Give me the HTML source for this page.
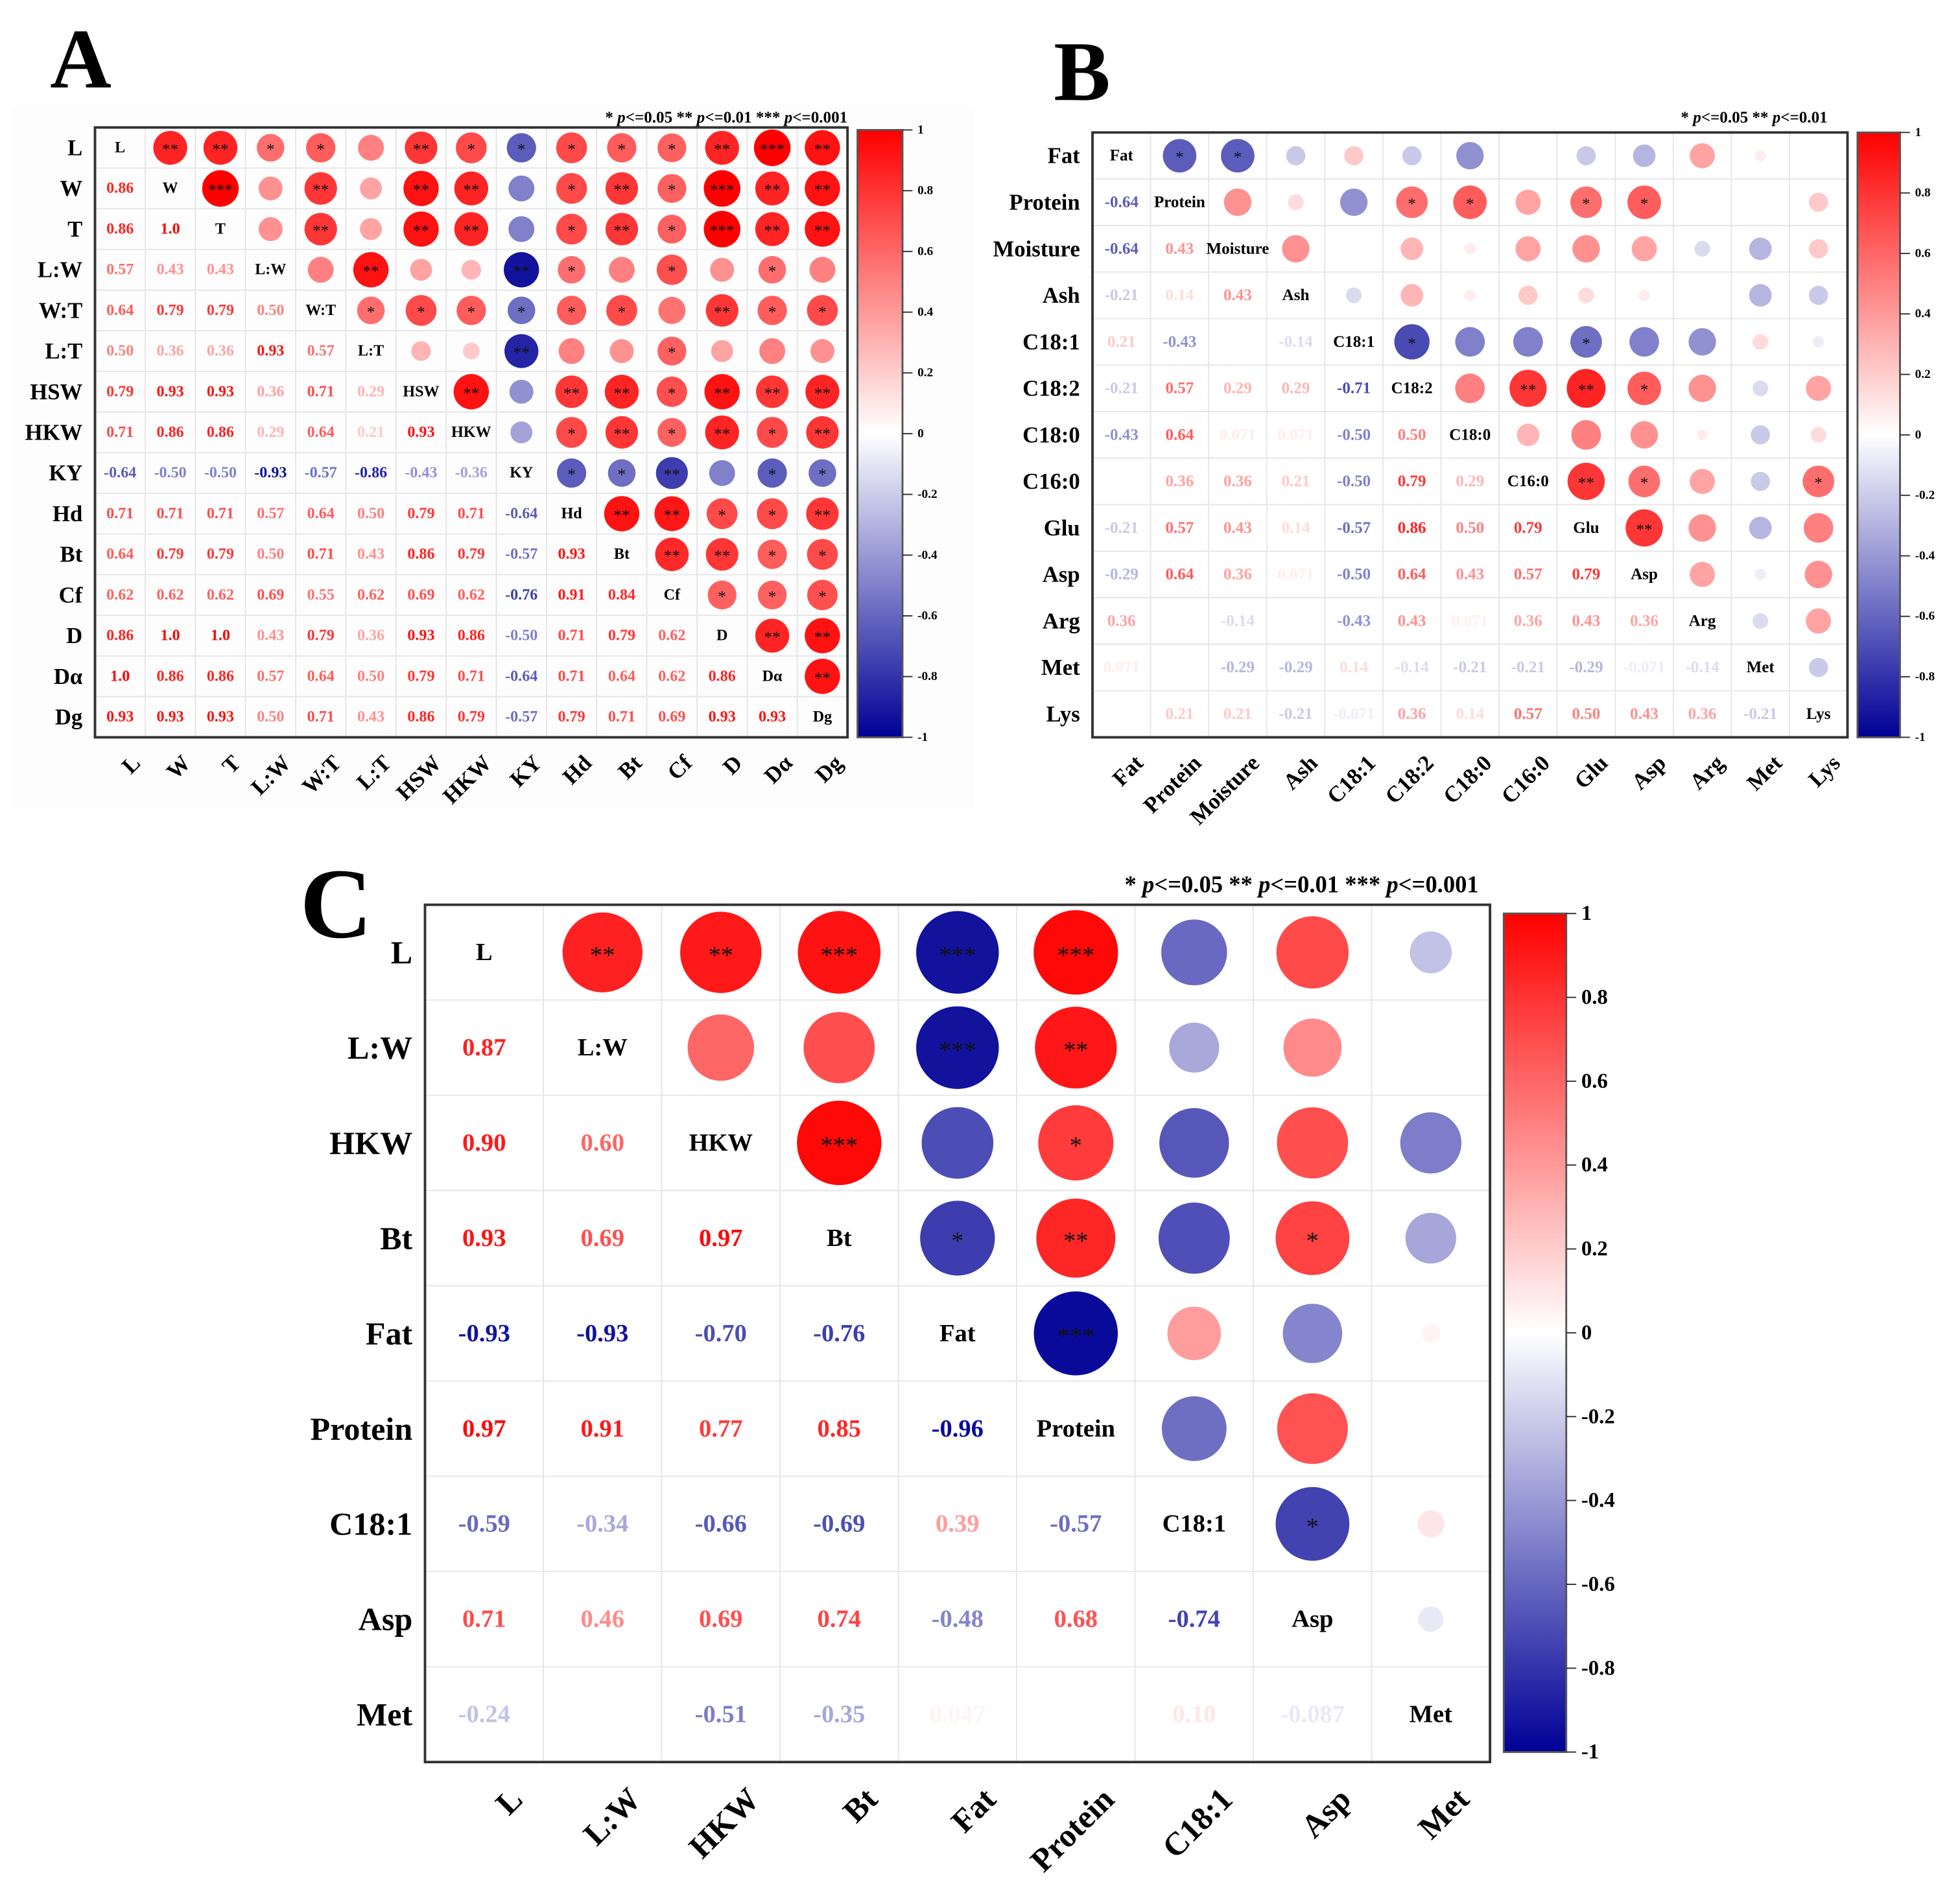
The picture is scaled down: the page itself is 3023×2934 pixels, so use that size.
<!DOCTYPE html>
<html><head><meta charset="utf-8"><title>Correlation matrices</title>
<style>
html,body{margin:0;padding:0;background:#fff;}
svg{display:block;font-family:"Liberation Serif",serif;}
</style></head>
<body>
<svg id="fig" xmlns="http://www.w3.org/2000/svg" width="3023" height="2934" viewBox="0 0 1568 1522" preserveAspectRatio="none">
<rect x="0" y="0" width="1568" height="1522" fill="#fff"/>
<rect x="10" y="85" width="770" height="563" fill="#fdfdfd"/>
<text x="40" y="70" font-size="68" font-weight="bold">A</text>
<text x="843" y="80" font-size="68" font-weight="bold">B</text>
<text x="240" y="750" font-size="80" font-weight="bold">C</text>
</svg>
<script>
// ---------- Panel A data ----------
const labelsA = ["L","W","T","L:W","W:T","L:T","HSW","HKW","KY","Hd","Bt","Cf","D","Dα","Dg"];
const lowerA = [
 [],
 [0.86],
 [0.86,1.0],
 [0.57,0.43,0.43],
 [0.64,0.79,0.79,0.50],
 [0.50,0.36,0.36,0.93,0.57],
 [0.79,0.93,0.93,0.36,0.71,0.29],
 [0.71,0.86,0.86,0.29,0.64,0.21,0.93],
 [-0.64,-0.50,-0.50,-0.93,-0.57,-0.86,-0.43,-0.36],
 [0.71,0.71,0.71,0.57,0.64,0.50,0.79,0.71,-0.64],
 [0.64,0.79,0.79,0.50,0.71,0.43,0.86,0.79,-0.57,0.93],
 [0.62,0.62,0.62,0.69,0.55,0.62,0.69,0.62,-0.76,0.91,0.84],
 [0.86,1.0,1.0,0.43,0.79,0.36,0.93,0.86,-0.50,0.71,0.79,0.62],
 [1.0,0.86,0.86,0.57,0.64,0.50,0.79,0.71,-0.64,0.71,0.64,0.62,0.86],
 [0.93,0.93,0.93,0.50,0.71,0.43,0.86,0.79,-0.57,0.79,0.71,0.69,0.93,0.93]
];
const starsA = [
 ["**","**","*","*","","**","*","*","*","*","*","**","***","**"],
 ["***","","**","","**","**","","*","**","*","***","**","**"],
 ["","**","","**","**","","*","**","*","***","**","**"],
 ["","**","","","**","*","","*","","*",""],
 ["*","*","*","*","*","*","","**","*","*"],
 ["","","**","","","*","","",""],
 ["**","","**","**","*","**","**","**"],
 ["","*","**","*","**","*","**"],
 ["*","*","**","","*","*"],
 ["**","**","*","*","**"],
 ["**","**","*","*"],
 ["*","*","*"],
 ["**","**"],
 ["**"],
 []
];
const ticksA = [1,0.8,0.6,0.4,0.2,0,-0.2,-0.4,-0.6,-0.8,-1];

// ---------- Panel B data ----------
const labelsB = ["Fat","Protein","Moisture","Ash","C18:1","C18:2","C18:0","C16:0","Glu","Asp","Arg","Met","Lys"];
const lowerB = [
 [],
 [-0.64],
 [-0.64,0.43],
 [-0.21,0.14,0.43],
 [0.21,-0.43,0,-0.14],
 [-0.21,0.57,0.29,0.29,-0.71],
 [-0.43,0.64,0.071,0.071,-0.50,0.50],
 [0,0.36,0.36,0.21,-0.50,0.79,0.29],
 [-0.21,0.57,0.43,0.14,-0.57,0.86,0.50,0.79],
 [-0.29,0.64,0.36,0.071,-0.50,0.64,0.43,0.57,0.79],
 [0.36,0,-0.14,0,-0.43,0.43,0.071,0.36,0.43,0.36],
 [0.071,0,-0.29,-0.29,0.14,-0.14,-0.21,-0.21,-0.29,-0.071,-0.14],
 [0,0.21,0.21,-0.21,-0.071,0.36,0.14,0.57,0.50,0.43,0.36,-0.21]
];
const starsB = [
 ["*","*","","","","","","","","","",""],
 ["","","","*","*","","*","*","","",""],
 ["","","","","","","","","",""],
 ["","","","","","","","",""],
 ["*","","","*","","","",""],
 ["","**","**","*","","",""],
 ["","","","","",""],
 ["**","*","","","*"],
 ["**","","",""],
 ["","",""],
 ["",""],
 [""],
 []
];
const ticksB = [1,0.8,0.6,0.4,0.2,0,-0.2,-0.4,-0.6,-0.8,-1];

// ---------- Panel C data ----------
const labelsC = ["L","L:W","HKW","Bt","Fat","Protein","C18:1","Asp","Met"];
const lowerC = [
 [],
 [0.87],
 [0.90,0.60],
 [0.93,0.69,0.97],
 [-0.93,-0.93,-0.70,-0.76],
 [0.97,0.91,0.77,0.85,-0.96],
 [-0.59,-0.34,-0.66,-0.69,0.39,-0.57],
 [0.71,0.46,0.69,0.74,-0.48,0.68,-0.74],
 [-0.24,0,-0.51,-0.35,0.047,0,0.10,-0.087]
];
const starsC = [
 ["**","**","***","***","***","","",""],
 ["","","***","**","","",""],
 ["***","","*","","",""],
 ["*","**","","*",""],
 ["***","","",""],
 ["","",""],
 ["*",""],
 [""],
 []
];
const ticksC = [1,0.8,0.6,0.4,0.2,0,-0.2,-0.4,-0.6,-0.8,-1];

const NS = "http://www.w3.org/2000/svg";
const svg = document.getElementById("fig");

function colorOf(v){
  v = Math.max(-1, Math.min(1, v));
  if (v >= 0) {
    const g = Math.round(255*(1-v));
    return `rgb(255,${g},${g})`;
  } else {
    const a = -v;
    const c = Math.round(255*(1-a));
    const b = Math.round(255 - a*105);
    return `rgb(${c},${c},${b})`;
  }
}
function fmt(v){
  if (Math.abs(v) === 1) return v < 0 ? "-1.0" : "1.0";
  if (Math.abs(Math.round(v*100) - v*100) < 1e-9) return v.toFixed(2);
  return String(v);
}
function mk(tag, attrs, parent){
  const e = document.createElementNS(NS, tag);
  for (const k in attrs) e.setAttribute(k, attrs[k]);
  (parent || svg).appendChild(e);
  return e;
}
function valueAt(lower, i, j){
  const r = Math.max(i,j), c = Math.min(i,j);
  return lower[r][c];
}

function drawPanel(cfg){
  const {key, labels, lower, stars, ticks, x0, y0, x1, y1, cb, labelSize, valSize, starSize, tickSize, legend} = cfg;
  const n = labels.length;
  const cw = (x1-x0)/n, ch = (y1-y0)/n;
  const xPos = j => x0 + cw*(j+0.5);
  const yPos = i => y0 + ch*(i+0.5);
  const g = mk("g", {});
  
  
  for (let k = 1; k < n; k++) {
    const lv = mk("line", {x1: x0+cw*k, y1: y0, x2: x0+cw*k, y2: y1, stroke: "#e6e6e6", "stroke-width": 1}, g);
    
    
    const lh = mk("line", {x1: x0, y1: y0+ch*k, x2: x1, y2: y0+ch*k, stroke: "#e6e6e6", "stroke-width": 1}, g);
    
    
  }
  const border = mk("rect", {x: x0, y: y0, width: x1-x0, height: y1-y0, fill: "none", stroke: "#333", "stroke-width": 2}, g);
  
  
  const rmax = 0.45*Math.min(cw, ch);
  for (let i = 0; i < n; i++) {
    const rl = mk("text", {x: x0-10, y: yPos(i), "font-size": labelSize, "font-weight": "bold", "text-anchor": "end", "dominant-baseline": "central"}, g);
    rl.textContent = labels[i];
    
    
    const cx = xPos(i) + cw*0.2, cy = y1 + labelSize*0.7;
    const cl = mk("text", {x: cx, y: cy, "font-size": labelSize, "font-weight": "bold", "text-anchor": "end", "dominant-baseline": "hanging", transform: `rotate(-45 ${cx} ${cy})`}, g);
    cl.textContent = labels[i];
    
    
    for (let j = 0; j < n; j++) {
      if (i === j) {
        const d = mk("text", {x: xPos(j), y: yPos(i), "font-size": valSize, "font-weight": "bold", "text-anchor": "middle", "dominant-baseline": "central"}, g);
        d.textContent = labels[i];
        
        
      } else if (i > j) {
        const v = valueAt(lower, i, j);
        if (v === 0) continue;
        const t = mk("text", {x: xPos(j), y: yPos(i), "font-size": valSize, "font-weight": "bold", "text-anchor": "middle", "dominant-baseline": "central", fill: colorOf(v)}, g);
        t.textContent = fmt(v);
        
        
      } else {
        const v = valueAt(lower, i, j);
        if (v === 0) continue;
        const c = mk("circle", {cx: xPos(j), cy: yPos(i), r: rmax*Math.sqrt(Math.abs(v)), fill: colorOf(v)}, g);
        
        
        const s = stars[i][j-i-1];
        if (s) {
          const st = mk("text", {x: xPos(j), y: yPos(i) + starSize*0.12, "font-size": starSize, "text-anchor": "middle", "dominant-baseline": "central", fill: "#111"}, g);
          st.textContent = s;
          
          
        }
      }
    }
  }
  const gid = key + "-grad";
  const defs = mk("defs", {}, g);
  const lg = mk("linearGradient", {id: gid, x1: 0, y1: 0, x2: 0, y2: 1}, defs);
  for (let k = 0; k <= 20; k++) {
    const v = 1 - k/10;
    mk("stop", {offset: (k/20*100)+"%", "stop-color": colorOf(v)}, lg);
  }
  const bar = mk("rect", {x: cb.x, y: cb.y0, width: cb.w, height: cb.y1-cb.y0, fill: `url(#${gid})`, stroke: "#555", "stroke-width": 1.5}, g);
  
  
  const ty = v => cb.y0 + (1 - v)/2*(cb.y1-cb.y0);
  ticks.forEach(v => {
    const tl = mk("line", {x1: cb.x+cb.w, y1: ty(v), x2: cb.x+cb.w+8, y2: ty(v), stroke: "#333", "stroke-width": 1}, g);
    
    
    const tt = mk("text", {x: cb.x+cb.w+12, y: ty(v), "font-size": tickSize, "font-weight": "bold", "dominant-baseline": "central"}, g);
    tt.textContent = v === 0 ? "0" : (Math.abs(v) === 1 ? String(v) : (v < 0 ? "-" : "") + String(Math.abs(v)));
    
    
  });
  const lt = mk("text", {x: legend.x, y: legend.y, "font-size": legend.size, "font-weight": "bold", "text-anchor": "end"}, g);
  lt.innerHTML = legend.html;
  
  
}

drawPanel({key: "panel-a", labels: labelsA, lower: lowerA, stars: starsA, ticks: ticksA,
  x0: 76, y0: 102, x1: 678, y1: 590, cb: {x: 686, w: 36, y0: 104, y1: 590},
  labelSize: 18, valSize: 12.5, starSize: 13, tickSize: 10,
  legend: {x: 678, y: 98, size: 13, html: '* <tspan font-style="italic">p</tspan>&lt;=0.05  ** <tspan font-style="italic">p</tspan>&lt;=0.01  *** <tspan font-style="italic">p</tspan>&lt;=0.001'}});
drawPanel({key: "panel-b", labels: labelsB, lower: lowerB, stars: starsB, ticks: ticksB,
  x0: 874, y0: 106, x1: 1478, y1: 590, cb: {x: 1486, w: 34, y0: 106, y1: 590},
  labelSize: 18, valSize: 13, starSize: 13, tickSize: 10,
  legend: {x: 1462, y: 98, size: 13, html: '* <tspan font-style="italic">p</tspan>&lt;=0.05  ** <tspan font-style="italic">p</tspan>&lt;=0.01'}});
drawPanel({key: "panel-c", labels: labelsC, lower: lowerC, stars: starsC, ticks: ticksC,
  x0: 340, y0: 724, x1: 1192, y1: 1410, cb: {x: 1203, w: 50, y0: 731, y1: 1402},
  labelSize: 26, valSize: 20, starSize: 20, tickSize: 17,
  legend: {x: 1183, y: 714, size: 19, html: '* <tspan font-style="italic">p</tspan>&lt;=0.05   ** <tspan font-style="italic">p</tspan>&lt;=0.01   *** <tspan font-style="italic">p</tspan>&lt;=0.001'}});
</script>
</body></html>
